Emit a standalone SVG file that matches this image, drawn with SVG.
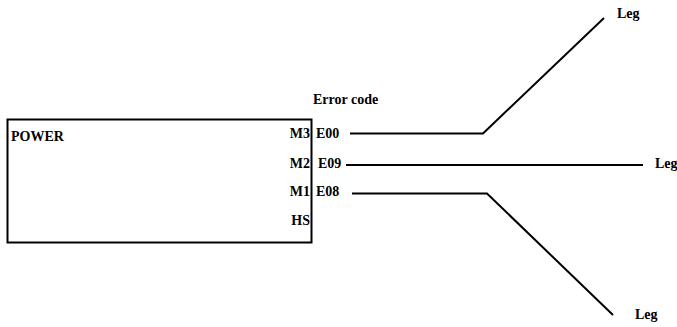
<svg xmlns="http://www.w3.org/2000/svg" width="677" height="327" viewBox="0 0 677 327">
<style>
.t{font-family:"Liberation Serif","DejaVu Serif",serif;font-weight:bold;font-size:14px;fill:#000}
.ln{fill:none;stroke:#000;stroke-width:2}
</style>
<rect width="677" height="327" fill="#fff"/>
<g id="power">
<rect x="7.5" y="119.5" width="304" height="123" class="ln"/>
<text class="t" x="11" y="141">POWER</text>
<text class="t" x="310" y="137.5" text-anchor="end">M3</text>
<text class="t" x="310" y="167.5" text-anchor="end">M2</text>
<text class="t" x="310" y="196" text-anchor="end">M1</text>
<text class="t" x="310" y="225" text-anchor="end">HS</text>
</g>
<g id="error-code">
<text class="t" x="313" y="104">Error code</text>
<text class="t" x="316" y="137.5">E00</text>
<text class="t" x="318" y="167.5">E09</text>
<text class="t" x="316" y="196">E08</text>
</g>
<g id="leg-top"><text class="t" x="617" y="18">Leg</text></g>
<g id="leg-mid"><text class="t" x="655" y="168">Leg</text></g>
<g id="leg-bottom"><text class="t" x="635" y="319">Leg</text></g>
<g id="connectors">
<polyline class="ln" points="350,133.5 483,133.5 604,18"/>
<polyline class="ln" points="346,165 643,165"/>
<polyline class="ln" points="352,193.5 487,193.5 613,315"/>
</g>
</svg>
